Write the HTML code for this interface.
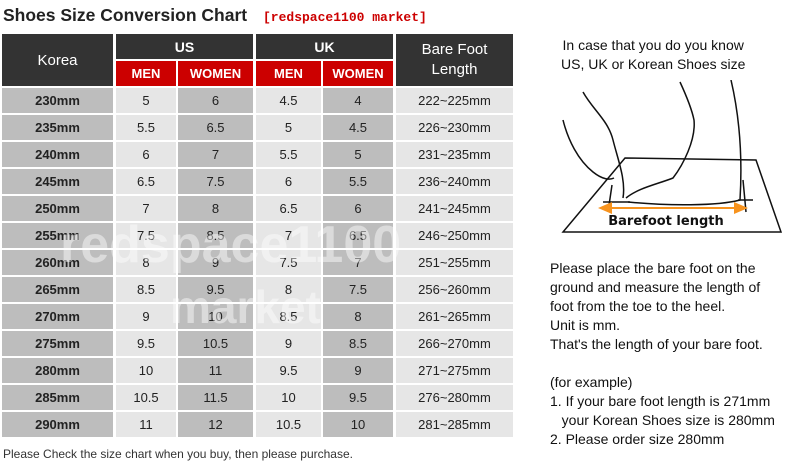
<!DOCTYPE html>
<html><head><meta charset="utf-8"><style>
body{margin:0;width:800px;height:470px;background:#fff;position:relative;overflow:hidden;font-family:"Liberation Sans",sans-serif}
.a{position:absolute;box-sizing:border-box;display:flex;align-items:center;justify-content:center;text-align:center}
.d{background:#333;color:#fff}
.r{background:#c00;color:#fff;font-weight:bold;font-size:13px}
.c{font-size:13px;color:#222}
.t{position:absolute;font-size:14px;color:#111;white-space:nowrap}
</style></head><body>
<div class="t" style="left:3px;top:5px;font-size:17.5px;font-weight:bold;color:#222">Shoes Size Conversion Chart</div>
<div class="t" style="left:263px;top:10px;font-size:13px;font-weight:bold;color:#c00;font-family:'Liberation Mono',monospace">[redspace1100 market]</div>
<div id="tbl">
<div class="a d" style="left:2px;top:34px;width:111px;height:52px;font-size:15px">Korea</div>
<div class="a d" style="left:116px;top:34px;width:137px;height:25px;font-size:14px;font-weight:bold">US</div>
<div class="a d" style="left:256px;top:34px;width:137px;height:25px;font-size:14px;font-weight:bold">UK</div>
<div class="a d" style="left:396px;top:34px;width:117px;height:52px;font-size:15px;line-height:20px">Bare Foot<br>Length</div>
<div class="a r" style="left:116px;top:61px;width:60px;height:25px">MEN</div>
<div class="a r" style="left:178px;top:61px;width:75px;height:25px">WOMEN</div>
<div class="a r" style="left:256px;top:61px;width:65px;height:25px">MEN</div>
<div class="a r" style="left:323px;top:61px;width:70px;height:25px">WOMEN</div>
</div>
<div class="t" style="left:60px;top:215px;font-size:52px;font-weight:bold;color:rgba(255,255,255,0.45)">redspace1100</div>
<div class="t" style="left:170px;top:280px;font-size:46px;font-weight:bold;color:rgba(255,255,255,0.45)">market</div>
<div class="t" style="left:3px;top:447px;font-size:12px;color:#333">Please Check the size chart when you buy, then please purchase.</div>
<div class="t" style="left:561px;top:36px;line-height:19px;text-align:center">In case that you do you know<br>US, UK or Korean Shoes size</div>
<svg style="position:absolute;left:548px;top:80px" width="250" height="160" viewBox="0 0 250 160">
<g fill="none" stroke="#111" stroke-width="1.5">
<polygon points="77,78 208,80 233,152 15,152"/>
<path d="M35,12 C45,30 60,40 65,60 C70,80 78,100 75,118"/>
<path d="M15,40 C20,60 30,80 45,92 C55,100 62,100 66,98"/>
<path d="M78,118 C90,108 110,104 125,98 C135,85 148,60 146,40 C144,30 138,15 132,2"/>
<path d="M183,0 C190,30 195,70 192,120 C170,126 120,126 80,122"/>
<path d="M55,122 L82,122 M190,120 L205,120 M64,105 L60,132 M195,100 L198,132"/>
</g>
<line x1="60" y1="128" x2="192" y2="128" stroke="#f7931e" stroke-width="2"/>
<polygon points="50,128 64,122 64,134" fill="#f7931e"/><polygon points="200,128 186,122 186,134" fill="#f7931e"/>
<text x="118" y="145" text-anchor="middle" font-size="13" font-weight="bold" font-family="DejaVu Sans, sans-serif" fill="#111">Barefoot length</text>
</svg>
<div class="t" style="left:550px;top:259px;line-height:19px">Please place the bare foot on the<br>ground and measure the length of<br>foot from the toe to the heel.<br>Unit is mm.<br>That's the length of your bare foot.<br><br>(for example)<br>1. If your bare foot length is 271mm<br>&nbsp;&nbsp;&nbsp;your Korean Shoes size is 280mm<br>2. Please order size 280mm</div>
<script>
const korea=["230mm","235mm","240mm","245mm","250mm","255mm","260mm","265mm","270mm","275mm","280mm","285mm","290mm"];
const usMen=["5","5.5","6","6.5","7","7.5","8","8.5","9","9.5","10","10.5","11"];
const usWomen=["6","6.5","7","7.5","8","8.5","9","9.5","10","10.5","11","11.5","12"];
const ukMen=["4.5","5","5.5","6","6.5","7","7.5","8","8.5","9","9.5","10","10.5"];
const ukWomen=["4","4.5","5","5.5","6","6.5","7","7.5","8","8.5","9","9.5","10"];
const bareFoot=["222~225mm","226~230mm","231~235mm","236~240mm","241~245mm","246~250mm","251~255mm","256~260mm","261~265mm","266~270mm","271~275mm","276~280mm","281~285mm"];
const cols=[[korea,2,111,"#bdbdbd",true],[usMen,116,60,"#e6e6e6"],[usWomen,178,75,"#bdbdbd"],[ukMen,256,65,"#e6e6e6"],[ukWomen,323,70,"#bdbdbd"],[bareFoot,396,117,"#e6e6e6"]];
const names=["korea","us-men","us-women","uk-men","uk-women","bare-foot"];
const tbl=document.getElementById('tbl');
korea.forEach((_,i)=>{cols.forEach((c,j)=>{
const el=document.createElement('div');
el.className='a c';


el.style.cssText=`left:${c[1]}px;top:${88+i*27}px;width:${c[2]}px;height:25px;background:${c[3]};${c[4]?'font-weight:bold;':''}`;
el.textContent=c[0][i];tbl.appendChild(el);});});
</script>
</body></html>
